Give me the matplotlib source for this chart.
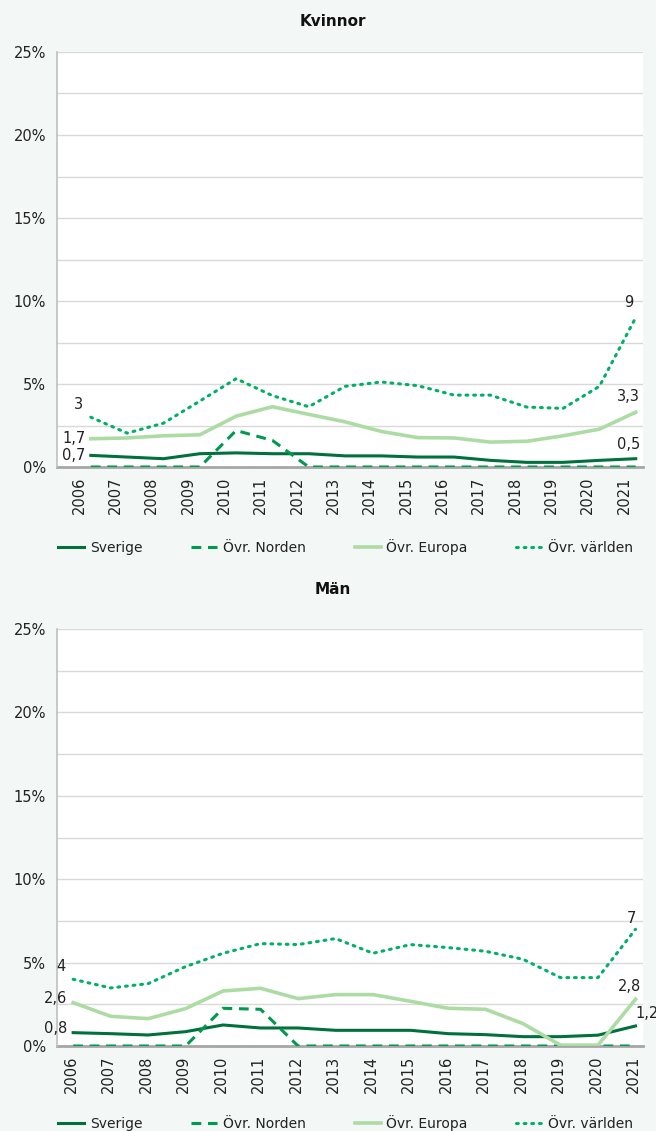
import matplotlib
matplotlib.use("Agg")
import matplotlib.pyplot as plt
import numpy as np

years = [str(y) for y in range(2006, 2022)]
series_names = ["Sverige", "Övr. Norden", "Övr. Europa", "Övr. världen"]

kv_sverige = [0.7, 0.6, 0.5, 0.8, 0.85, 0.8, 0.8, 0.67, 0.67, 0.6, 0.6, 0.4, 0.28, 0.28, 0.4, 0.5]
kv_norden = [0, 0, 0, 0, 2.2, 1.6, 0, 0, 0, 0, 0, 0, 0, 0, 0, 0]
kv_europa = [1.7, 1.75, 1.88, 1.94, 3.06, 3.63, 3.17, 2.72, 2.14, 1.77, 1.75, 1.5, 1.55, 1.88, 2.28, 3.3]
kv_varlden = [3.0, 2.04, 2.64, 3.97, 5.32, 4.3, 3.63, 4.86, 5.12, 4.9, 4.33, 4.33, 3.61, 3.53, 4.86, 9.0]

man_sverige = [0.8, 0.74, 0.66, 0.86, 1.26, 1.08, 1.08, 0.94, 0.94, 0.94, 0.74, 0.68, 0.56, 0.56, 0.65, 1.2]
man_norden = [0, 0, 0, 0, 2.26, 2.2, 0, 0, 0, 0, 0, 0, 0, 0, 0, 0]
man_europa = [2.6, 1.78, 1.64, 2.24, 3.3, 3.46, 2.84, 3.08, 3.08, 2.68, 2.26, 2.2, 1.34, 0.05, 0.05, 2.8]
man_varlden = [4.0, 3.48, 3.74, 4.76, 5.56, 6.14, 6.08, 6.44, 5.56, 6.08, 5.9, 5.68, 5.2, 4.1, 4.1, 7.0]

kv_start_labels = ["0,7", None, "1,7", "3"]
kv_end_labels = ["0,5", None, "3,3", "9"]
man_start_labels = ["0,8", None, "2,6", "4"]
man_end_labels = ["1,2", None, "2,8", "7"]

colors = ["#00703c", "#009a4e", "#acdca4", "#00b067"]
styles = [dict(ls="-", lw=2.2), dict(ls=(0, (3.2, 2.2)), lw=2.2),
          dict(ls="-", lw=2.6), dict(ls=(0, (0.6, 1.9)), lw=2.2, dash_capstyle="round")]

FS = 10
bg = "#f3f7f6"
fig = plt.figure(figsize=(6.56, 11.31), dpi=100, facecolor=bg)
W, H = 656, 1131


def make_ax(left, right, top, bottom):
    return fig.add_axes([left / W, 1 - bottom / H, (right - left) / W, (bottom - top) / H])


def draw(ax, data, title, start_labels, end_labels, xlim, label_shift, title_y, legend_y, end_offsets):
    x = np.arange(len(years))
    ax.set_facecolor("white")
    for v in np.arange(2.5, 25.01, 2.5):
        ax.axhline(v, color="#d9d9d9", lw=1.0, zorder=1)
    for i, (vals, c, st) in enumerate(zip(data, colors, styles)):
        ax.plot(x, vals, color=c, zorder=3, label=series_names[i], **st)
    ax.set_xlim(*xlim)
    ax.set_ylim(0, 25)
    ax.set_yticks([0, 5, 10, 15, 20, 25])
    ax.set_yticklabels(["0%", "5%", "10%", "15%", "20%", "25%"], fontsize=10.5, color="#222222")
    ax.set_xticks(x + label_shift)
    ax.set_xticklabels(years, rotation=90, fontsize=10.5, color="#222222")
    ax.tick_params(axis="both", length=0, pad=8)
    ax.tick_params(axis="x", pad=7)
    for s in ["top", "right"]:
        ax.spines[s].set_visible(False)
    ax.spines["left"].set_color("#bfbfbf")
    ax.spines["left"].set_linewidth(1.2)
    ax.spines["bottom"].set_color("#a6a6a6")
    ax.spines["bottom"].set_linewidth(2.0)
    ax.spines["bottom"].set_zorder(2)
    for i, lab in enumerate(start_labels):
        if lab is None:
            continue
        y0 = data[i][0]
        if lab in ("3", "4"):
            ax.annotate(lab, (0, y0), xytext=(-9, 9), textcoords="offset points",
                        ha="center", va="center", fontsize=10.5, color="#222222", zorder=5)
        else:
            ax.annotate(lab, (0, y0), xytext=(-4, 3 if title == "Män" else 0), textcoords="offset points",
                        ha="right", va="center", fontsize=10.5, color="#222222", zorder=5)
    for i, lab in enumerate(end_labels):
        if lab is None:
            continue
        y1 = data[i][-1]
        dx, dy = end_offsets[i]
        ax.annotate(lab, (len(years) - 1, y1), xytext=(dx, dy), textcoords="offset points",
                    ha="center", va="center", fontsize=10.5, color="#222222", zorder=5,
                    annotation_clip=False)
    fig.text(333 / W, 1 - title_y / H, title, ha="center", va="center", fontsize=11,
             fontweight="bold", color="#111111")
    leg = fig.legend(*ax.get_legend_handles_labels(), loc="center", ncol=4,
                     bbox_to_anchor=(0.527, 1 - legend_y / H), frameon=False, fontsize=FS,
                     handlelength=1.9, columnspacing=3.5, handletextpad=0.4)
    for t in leg.get_texts():
        t.set_color("#222222")


ax1 = make_ax(57, 643, 52, 467)
draw(ax1, [kv_sverige, kv_norden, kv_europa, kv_varlden], "Kvinnor",
     kv_start_labels, kv_end_labels, (-0.93, 15.2), -0.32, 22, 547,
     [(-5, 10), None, (-5, 11), (-5, 11)])

ax2 = make_ax(57, 643, 629, 1046)
draw(ax2, [man_sverige, man_norden, man_europa, man_varlden], "Män",
     man_start_labels, man_end_labels, (-0.43, 15.2), -0.05, 590, 1123,
     [(8, 9), None, (-4, 9), (-3, 8)])

fig.savefig("out.png", dpi=100, facecolor=bg)
